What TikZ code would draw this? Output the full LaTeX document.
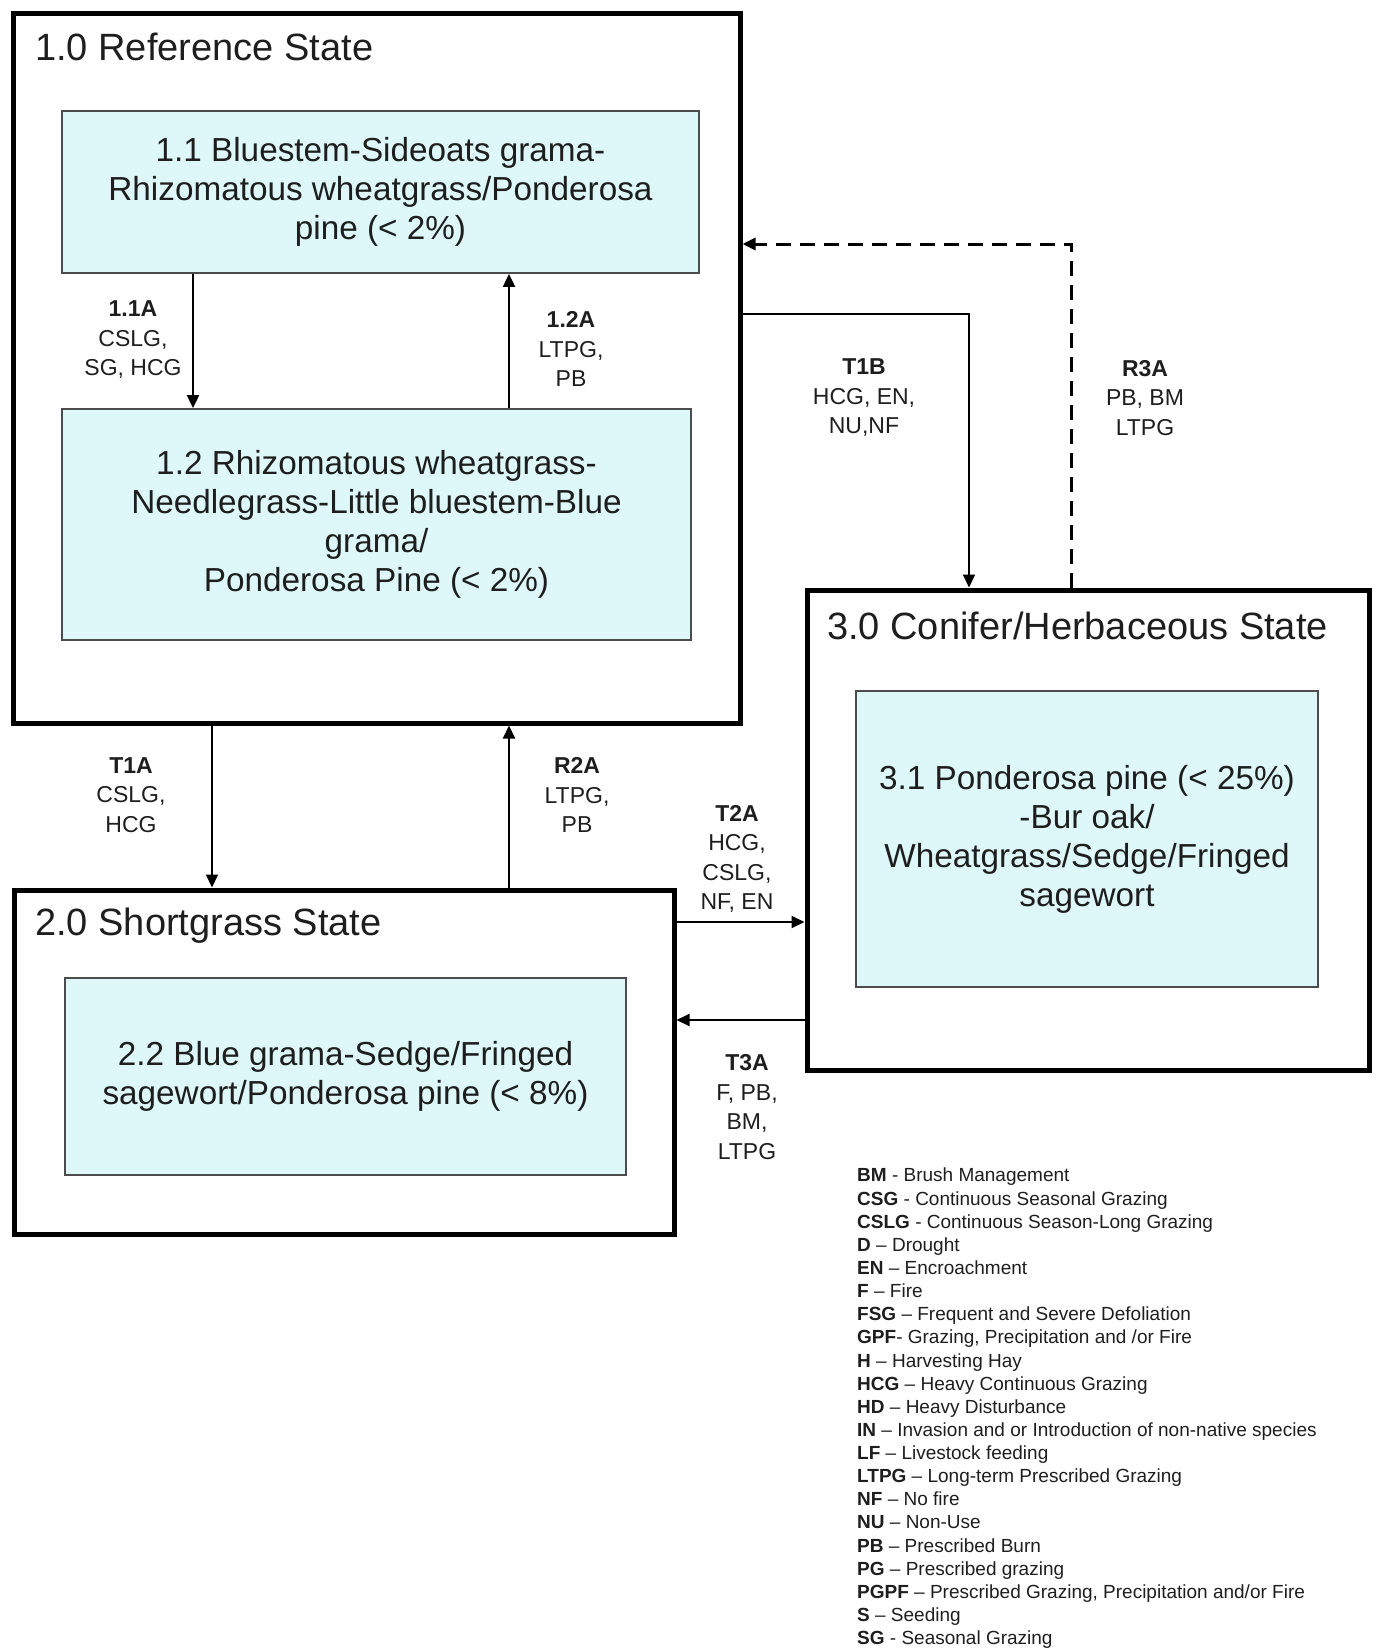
\documentclass[tikz,border=0pt]{standalone}
\usepackage{fontspec}
\setmainfont{Liberation Sans}
\usetikzlibrary{arrows.meta}
\definecolor{paleaqua}{RGB}{222,248,250}
\definecolor{inkgray}{RGB}{30,30,30}

\begin{document}
\begin{tikzpicture}[x=1pt, y=-1pt, >={Triangle[length=13pt,width=12pt]},
  state/.style={draw=black, line width=5pt, inner sep=0pt},
  phase/.style={draw=black!70, line width=1.8pt, fill=paleaqua, align=center, inner sep=0pt, text=inkgray, font=\fontsize{33.3}{39}\selectfont},
  title/.style={anchor=base west, inner sep=0pt, text=inkgray, font=\fontsize{38}{44}\selectfont},
  trans/.style={line width=2pt, ->},
  lab/.style={align=center, inner sep=0pt, text=inkgray, font=\fontsize{23}{29.5}\selectfont}]

\useasboundingbox (0,0) rectangle (1377,1648);

\node[state, minimum width=727pt, minimum height=709pt] (s1) at (376.5,368.5) {};
\node[state, minimum width=660pt, minimum height=344pt] (s2) at (344,1062) {};
\node[state, minimum width=562pt, minimum height=480pt] (s3) at (1088,830) {};
\node[title] (s1t) at (35,60.6) {1.0 Reference State};
\node[title] (s2t) at (35,935.6) {2.0 Shortgrass State};
\node[title] (s3t) at (827,639.6) {3.0 Conifer/Herbaceous State};

\node[phase, minimum width=637pt, minimum height=162pt] (p11) at (380.5,192) {1.1 Bluestem-Sideoats grama-\\Rhizomatous wheatgrass/Ponderosa\\pine (< 2\%)};
\node[phase, minimum width=629pt, minimum height=231pt] (p12) at (376.5,524.5) {1.2 Rhizomatous wheatgrass-\\Needlegrass-Little bluestem-Blue\\grama/\\Ponderosa Pine (< 2\%)};
\node[phase, minimum width=561pt, minimum height=197pt] (p22) at (345.5,1076.5) {2.2 Blue grama-Sedge/Fringed\\sagewort/Ponderosa pine (< 8\%)};
\node[phase, minimum width=462pt, minimum height=296pt] (p31) at (1087,839) {3.1 Ponderosa pine (< 25\%)\\-Bur oak/\\Wheatgrass/Sedge/Fringed\\sagewort};

\coordinate (k11) at (193,340);
\coordinate (k12) at (509,340);
\coordinate (kt1a) at (212,800);
\coordinate (kr2a) at (509,800);
\coordinate (kt1b) at (969,314);
\coordinate (kr3a) at (1071,244);
\coordinate (kt2a) at (740,922);
\coordinate (kt3a) at (740,1020);

\draw[trans] (p11.south -| k11) -- (p12.north -| k11);
\draw[trans] (p12.north -| k12) -- (p11.south -| k12);
\draw[trans] (s1.south -| kt1a) -- (s2.north -| kt1a);
\draw[trans] (s2.north -| kr2a) -- (s1.south -| kr2a);
\draw[trans] (s1.east |- kt1b) -| (s3.north -| kt1b);
\draw[trans, line width=3pt, dash pattern=on 15pt off 9pt] (s3.north -| kr3a) |- (s1.east |- kr3a);
\draw[trans] (s2.east |- kt2a) -- (s3.west |- kt2a);
\draw[trans] (s3.west |- kt3a) -- (s2.east |- kt3a);

\node[lab] (l11) at (133,340) {\textbf{1.1A}\\CSLG,\\SG, HCG};
\node[lab] (l12) at (571,349) {\textbf{1.2A}\\LTPG,\\PB};
\node[lab] (lt1a) at (131,795) {\textbf{T1A}\\CSLG,\\HCG};
\node[lab] (lr2a) at (577,795) {\textbf{R2A}\\LTPG,\\PB};
\node[lab] (lt1b) at (864,398) {\textbf{T1B}\\HCG, EN,\\NU,NF};
\node[lab] (lr3a) at (1145,398) {\textbf{R3A}\\PB, BM\\LTPG};
\node[lab] (lt2a) at (737,859) {\textbf{T2A}\\HCG,\\CSLG,\\NF, EN};
\node[lab] (lt3a) at (747,1107) {\textbf{T3A}\\F, PB,\\BM,\\LTPG};

\node[anchor=north west, align=left, inner sep=0pt, text=inkgray, font=\fontsize{19}{23.13}\selectfont] (key) at (857,1168) {%
\textbf{BM} - Brush Management\\
\textbf{CSG} - Continuous Seasonal Grazing\\
\textbf{CSLG} - Continuous Season-Long Grazing\\
\textbf{D} – Drought\\
\textbf{EN} – Encroachment\\
\textbf{F} – Fire\\
\textbf{FSG} – Frequent and Severe Defoliation\\
\textbf{GPF}- Grazing, Precipitation and /or Fire\\
\textbf{H} – Harvesting Hay\\
\textbf{HCG} – Heavy Continuous Grazing\\
\textbf{HD} – Heavy Disturbance\\
\textbf{IN} – Invasion and or Introduction of non-native species\\
\textbf{LF} – Livestock feeding\\
\textbf{LTPG} – Long-term Prescribed Grazing\\
\textbf{NF} – No fire\\
\textbf{NU} – Non-Use\\
\textbf{PB} – Prescribed Burn\\
\textbf{PG} – Prescribed grazing\\
\textbf{PGPF} – Prescribed Grazing, Precipitation and/or Fire\\
\textbf{S} – Seeding\\
\textbf{SG} - Seasonal Grazing};

\end{tikzpicture}
\end{document}
